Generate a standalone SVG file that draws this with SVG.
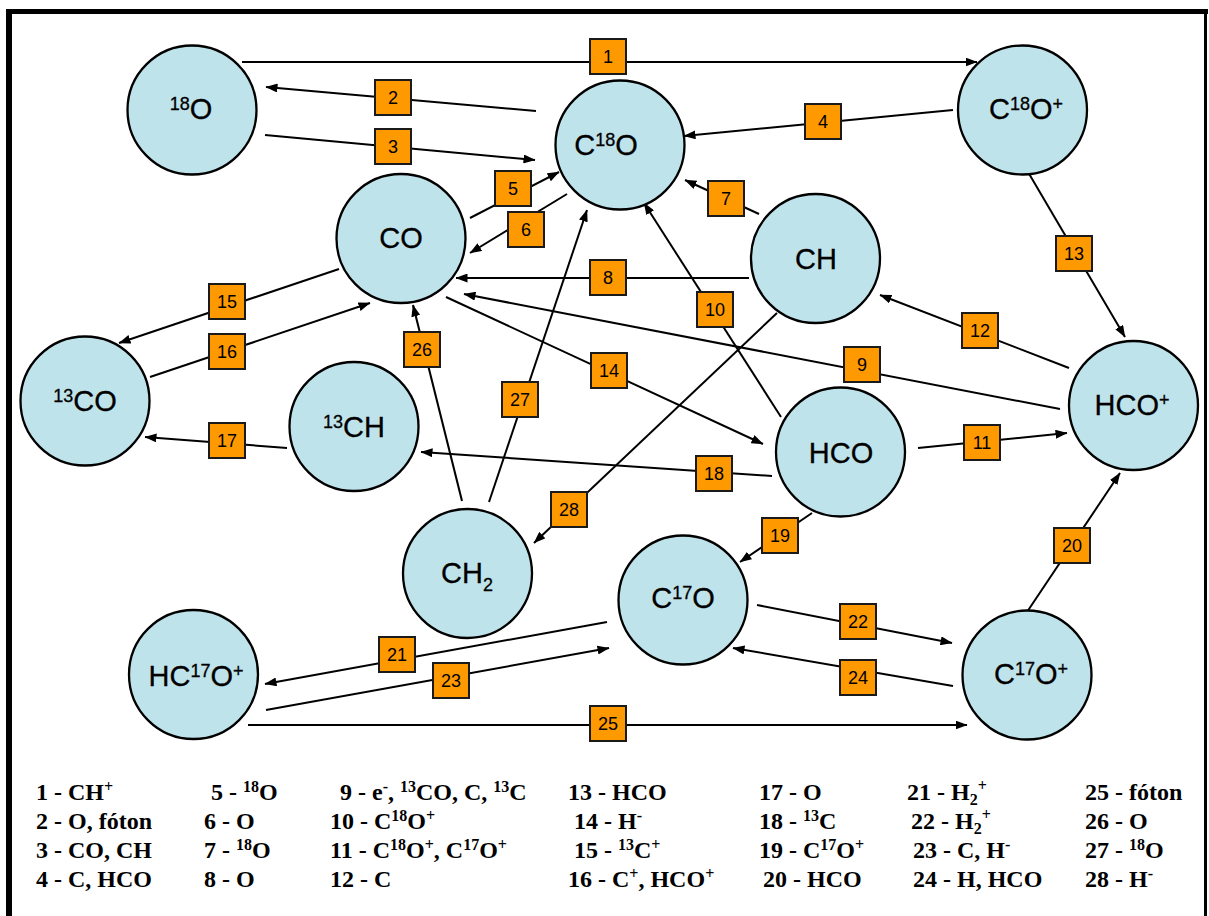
<svg xmlns="http://www.w3.org/2000/svg" width="1209" height="916" viewBox="0 0 1209 916">
  <style>
    .node circle { fill: #BFE3EA; stroke: #000; stroke-width: 2.3; }
    .node text { font-family: "Liberation Sans", Arial, sans-serif; font-size: 29px; fill: #000; stroke: #000; stroke-width: 0.3; text-anchor: middle; }
    .sup { font-size: 18px; }
    .edge { stroke: #000; stroke-width: 2; fill: none; marker-end: url(#ah); }
    .tag rect { fill: #FF9900; stroke: #1a1a1a; stroke-width: 2; }
    .tag text { font-family: "Liberation Sans", Arial, sans-serif; font-size: 18px; fill: #000; text-anchor: middle; }
    .legend text { font-family: "Liberation Serif", "Times New Roman", serif; font-weight: bold; font-size: 24px; fill: #000; }
    .ls { font-size: 16px; }
    .frame { fill: #000; }
  </style>
  <defs>
    <marker id="ah" viewBox="0 0 12 9" refX="11.5" refY="4.5" markerWidth="12" markerHeight="9" markerUnits="userSpaceOnUse" orient="auto">
      <path d="M0,0 L12,4.5 L0,9 z" fill="#000"/>
    </marker>
  </defs>

  <rect width="1209" height="916" fill="#fff"/>

  <!-- outer frame -->
  <g id="frame">
    <rect class="frame" x="6" y="9" width="6" height="907"/>
    <rect class="frame" x="6" y="9" width="1202" height="5"/>
    <rect class="frame" x="1204" y="9" width="3" height="907"/>
  </g>

  <!-- reaction arrows -->
  <g id="connectors">
    <line id="e1" class="edge" x1="242" y1="62" x2="977" y2="62"/>
    <line id="e2" class="edge" x1="536" y1="111" x2="266" y2="87"/>
    <line id="e3" class="edge" x1="265" y1="135" x2="535" y2="160"/>
    <line id="e4" class="edge" x1="953" y1="110" x2="684" y2="136"/>
    <line id="e5" class="edge" x1="470" y1="218" x2="559" y2="172"/>
    <line id="e6" class="edge" x1="567" y1="194" x2="470" y2="253"/>
    <line id="e7" class="edge" x1="759" y1="214" x2="685" y2="180"/>
    <line id="e8" class="edge" x1="749" y1="278" x2="456" y2="278"/>
    <line id="e9" class="edge" x1="1060" y1="409" x2="464" y2="294"/>
    <line id="e10" class="edge" x1="781" y1="417" x2="644" y2="203"/>
    <line id="e11" class="edge" x1="918" y1="448" x2="1067" y2="433"/>
    <line id="e12" class="edge" x1="1069" y1="368" x2="880" y2="295"/>
    <line id="e13" class="edge" x1="1028" y1="172" x2="1125" y2="337"/>
    <line id="e14" class="edge" x1="446" y1="297" x2="763" y2="444"/>
    <line id="e15" class="edge" x1="339" y1="269" x2="119" y2="343"/>
    <line id="e16" class="edge" x1="150" y1="377" x2="370" y2="303"/>
    <line id="e17" class="edge" x1="287" y1="448" x2="145" y2="437"/>
    <line id="e18" class="edge" x1="772" y1="476" x2="421" y2="452"/>
    <line id="e19" class="edge" x1="812" y1="513" x2="740" y2="562"/>
    <line id="e20" class="edge" x1="1027" y1="612" x2="1120" y2="473"/>
    <line id="e21" class="edge" x1="607" y1="622" x2="265" y2="684"/>
    <line id="e22" class="edge" x1="757" y1="605" x2="952" y2="643"/>
    <line id="e23" class="edge" x1="266" y1="710" x2="609" y2="648"/>
    <line id="e24" class="edge" x1="953" y1="686" x2="733" y2="648"/>
    <line id="e25" class="edge" x1="248" y1="725" x2="967" y2="725"/>
    <line id="e26" class="edge" x1="462" y1="501" x2="413" y2="305"/>
    <line id="e27" class="edge" x1="489" y1="502" x2="587" y2="210"/>
    <line id="e28" class="edge" x1="777" y1="313" x2="534" y2="543"/>
  </g>

  <!-- numbered reaction tags -->
  <g id="tags" class="tag">
    <g id="t1"><rect x="590" y="39" width="36" height="35"/><text x="608" y="63">1</text></g>
    <g id="t2"><rect x="375" y="80" width="36" height="35"/><text x="393" y="104">2</text></g>
    <g id="t3"><rect x="375" y="129" width="36" height="35"/><text x="393" y="153">3</text></g>
    <g id="t4"><rect x="805" y="104" width="36" height="35"/><text x="823" y="128">4</text></g>
    <g id="t5"><rect x="495" y="171" width="36" height="35"/><text x="513" y="195">5</text></g>
    <g id="t6"><rect x="508" y="212" width="36" height="35"/><text x="526" y="236">6</text></g>
    <g id="t7"><rect x="708" y="181" width="36" height="35"/><text x="726" y="205">7</text></g>
    <g id="t8"><rect x="590" y="260" width="36" height="35"/><text x="608" y="284">8</text></g>
    <g id="t9"><rect x="844" y="347" width="36" height="35"/><text x="862" y="371">9</text></g>
    <g id="t10"><rect x="697" y="292" width="36" height="35"/><text x="715" y="316">10</text></g>
    <g id="t11"><rect x="964" y="425" width="36" height="35"/><text x="982" y="449">11</text></g>
    <g id="t12"><rect x="962" y="313" width="36" height="35"/><text x="980" y="337">12</text></g>
    <g id="t13"><rect x="1056" y="236" width="36" height="35"/><text x="1074" y="260">13</text></g>
    <g id="t14"><rect x="591" y="353" width="36" height="35"/><text x="609" y="377">14</text></g>
    <g id="t15"><rect x="209" y="284" width="36" height="35"/><text x="227" y="308">15</text></g>
    <g id="t16"><rect x="209" y="334" width="36" height="35"/><text x="227" y="358">16</text></g>
    <g id="t17"><rect x="209" y="423" width="36" height="35"/><text x="227" y="447">17</text></g>
    <g id="t18"><rect x="696" y="456" width="36" height="35"/><text x="714" y="480">18</text></g>
    <g id="t19"><rect x="762" y="518" width="36" height="35"/><text x="780" y="542">19</text></g>
    <g id="t20"><rect x="1054" y="528" width="36" height="35"/><text x="1072" y="552">20</text></g>
    <g id="t21"><rect x="379" y="637" width="36" height="35"/><text x="397" y="661">21</text></g>
    <g id="t22"><rect x="840" y="604" width="36" height="35"/><text x="858" y="628">22</text></g>
    <g id="t23"><rect x="433" y="663" width="36" height="35"/><text x="451" y="687">23</text></g>
    <g id="t24"><rect x="840" y="660" width="36" height="35"/><text x="858" y="684">24</text></g>
    <g id="t25"><rect x="590" y="706" width="36" height="35"/><text x="608" y="730">25</text></g>
    <g id="t26"><rect x="404" y="332" width="36" height="35"/><text x="422" y="356">26</text></g>
    <g id="t27"><rect x="502" y="382" width="36" height="35"/><text x="520" y="406">27</text></g>
    <g id="t28"><rect x="551" y="492" width="36" height="35"/><text x="569" y="516">28</text></g>
  </g>

  <!-- species -->
  <g id="n-18O" class="node"><circle cx="192" cy="110" r="64.5"/>
    <text x="191" y="119"><tspan class="sup" dy="-9">18</tspan><tspan dy="9">O</tspan></text></g>
  <g id="n-C18O" class="node"><circle cx="620" cy="145" r="64.5"/>
    <text x="606" y="155">C<tspan class="sup" dy="-9">18</tspan><tspan dy="9">O</tspan></text></g>
  <g id="n-C18Op" class="node"><circle cx="1022.5" cy="110" r="64.5"/>
    <text x="1026" y="119">C<tspan class="sup" dy="-9">18</tspan><tspan dy="9">O</tspan><tspan class="sup" dy="-9">+</tspan></text></g>
  <g id="n-CO" class="node"><circle cx="401" cy="238.5" r="64.5"/>
    <text x="401" y="248">CO</text></g>
  <g id="n-CH" class="node"><circle cx="815.5" cy="258.5" r="64.5"/>
    <text x="816" y="269">CH</text></g>
  <g id="n-13CO" class="node"><circle cx="85" cy="401" r="64.5"/>
    <text x="85" y="411"><tspan class="sup" dy="-9">13</tspan><tspan dy="9">CO</tspan></text></g>
  <g id="n-13CH" class="node"><circle cx="354" cy="426.5" r="64.5"/>
    <text x="354" y="437"><tspan class="sup" dy="-9">13</tspan><tspan dy="9">CH</tspan></text></g>
  <g id="n-HCO" class="node"><circle cx="840.5" cy="452" r="64.5"/>
    <text x="841" y="463">HCO</text></g>
  <g id="n-HCOp" class="node"><circle cx="1133.5" cy="405.5" r="64.5"/>
    <text x="1132" y="415">HCO<tspan class="sup" dy="-9">+</tspan></text></g>
  <g id="n-CH2" class="node"><circle cx="467.5" cy="573.5" r="64.5"/>
    <text x="467" y="583">CH<tspan class="sup" dy="8">2</tspan></text></g>
  <g id="n-C17O" class="node"><circle cx="683" cy="600" r="64.5"/>
    <text x="683" y="608">C<tspan class="sup" dy="-9">17</tspan><tspan dy="9">O</tspan></text></g>
  <g id="n-HC17Op" class="node"><circle cx="193.5" cy="674.5" r="64.5"/>
    <text x="196" y="686">HC<tspan class="sup" dy="-9">17</tspan><tspan dy="9">O</tspan><tspan class="sup" dy="-9">+</tspan></text></g>
  <g id="n-C17Op" class="node"><circle cx="1027" cy="675" r="64.5"/>
    <text x="1031" y="684">C<tspan class="sup" dy="-9">17</tspan><tspan dy="9">O</tspan><tspan class="sup" dy="-9">+</tspan></text></g>

  <!-- key: reaction partners for each numbered arrow -->
  <g id="legend" class="legend">
    <text x="36" y="800">1 - CH<tspan class="ls" dy="-8">+</tspan></text>
    <text x="36" y="829">2 - O, fóton</text>
    <text x="36" y="858">3 - CO, CH</text>
    <text x="36" y="887">4 - C, HCO</text>

    <text x="211" y="800">5 - <tspan class="ls" dy="-8">18</tspan><tspan dy="8">O</tspan></text>
    <text x="204" y="829">6 - O</text>
    <text x="204" y="858">7 - <tspan class="ls" dy="-8">18</tspan><tspan dy="8">O</tspan></text>
    <text x="204" y="887">8 - O</text>

    <text x="340" y="800">9 - e<tspan class="ls" dy="-8">-</tspan><tspan dy="8">, </tspan><tspan class="ls" dy="-8">13</tspan><tspan dy="8">CO, C, </tspan><tspan class="ls" dy="-8">13</tspan><tspan dy="8">C</tspan></text>
    <text x="330" y="829">10 - C<tspan class="ls" dy="-8">18</tspan><tspan dy="8">O</tspan><tspan class="ls" dy="-8">+</tspan></text>
    <text x="330" y="858">11 - C<tspan class="ls" dy="-8">18</tspan><tspan dy="8">O</tspan><tspan class="ls" dy="-8">+</tspan><tspan dy="8">, C</tspan><tspan class="ls" dy="-8">17</tspan><tspan dy="8">O</tspan><tspan class="ls" dy="-8">+</tspan></text>
    <text x="330" y="887">12 - C</text>

    <text x="568" y="800">13 - HCO</text>
    <text x="574" y="829">14 - H<tspan class="ls" dy="-8">-</tspan></text>
    <text x="574" y="858">15 - <tspan class="ls" dy="-8">13</tspan><tspan dy="8">C</tspan><tspan class="ls" dy="-8">+</tspan></text>
    <text x="568" y="887">16 - C<tspan class="ls" dy="-8">+</tspan><tspan dy="8">, HCO</tspan><tspan class="ls" dy="-8">+</tspan></text>

    <text x="759" y="800">17 - O</text>
    <text x="759" y="829">18 - <tspan class="ls" dy="-8">13</tspan><tspan dy="8">C</tspan></text>
    <text x="759" y="858">19 - C<tspan class="ls" dy="-8">17</tspan><tspan dy="8">O</tspan><tspan class="ls" dy="-8">+</tspan></text>
    <text x="763" y="887">20 - HCO</text>

    <text x="907" y="800">21 - H<tspan class="ls" dy="5">2</tspan><tspan class="ls" dy="-14">+</tspan></text>
    <text x="911" y="829">22 - H<tspan class="ls" dy="5">2</tspan><tspan class="ls" dy="-14">+</tspan></text>
    <text x="913" y="858">23 - C, H<tspan class="ls" dy="-8">-</tspan></text>
    <text x="913" y="887">24 - H, HCO</text>

    <text x="1085" y="800">25 - fóton</text>
    <text x="1085" y="829">26 - O</text>
    <text x="1085" y="858">27 - <tspan class="ls" dy="-8">18</tspan><tspan dy="8">O</tspan></text>
    <text x="1085" y="887">28 - H<tspan class="ls" dy="-8">-</tspan></text>
  </g>
</svg>
